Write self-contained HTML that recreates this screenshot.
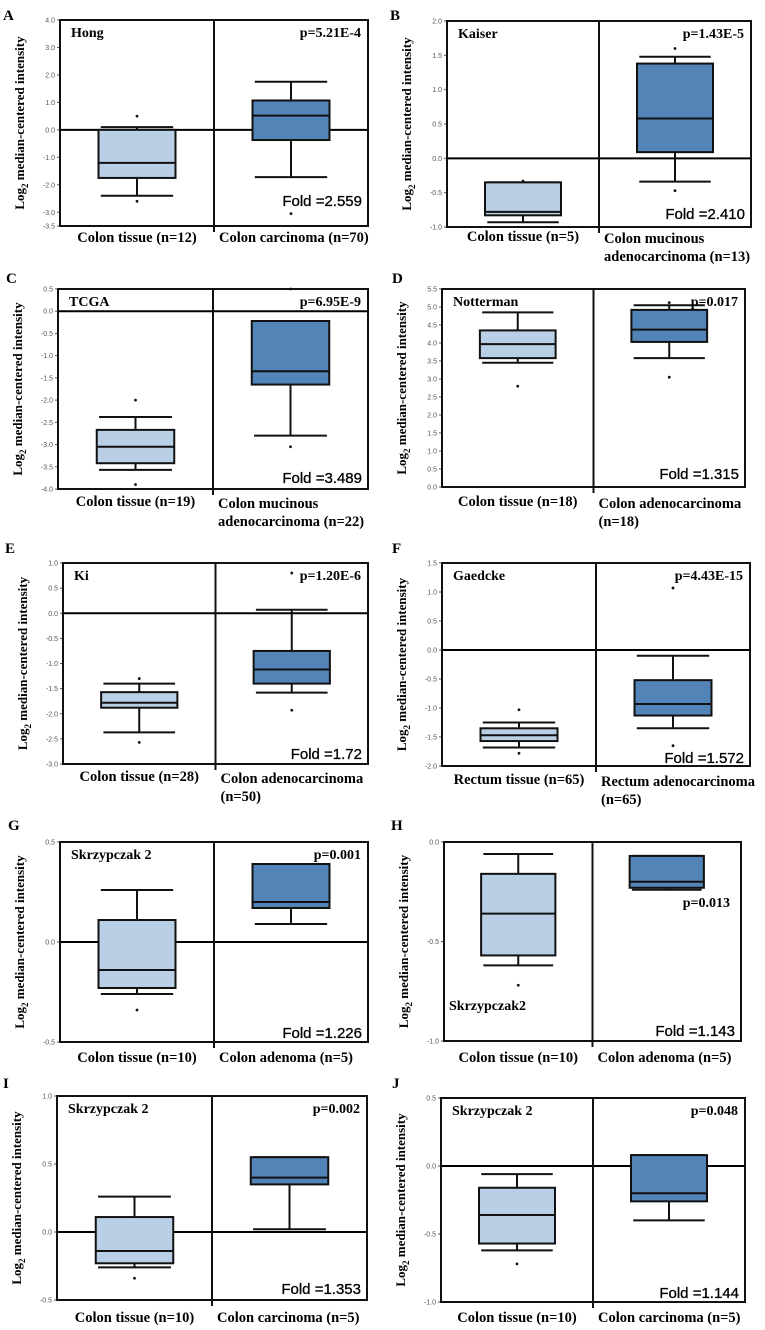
<!DOCTYPE html>
<html><head><meta charset="utf-8">
<style>
html,body{margin:0;padding:0;background:#fff;}
svg{display:block;}
.tick{font-family:"Liberation Sans",sans-serif;font-size:7px;fill:#555;}
.ser{font-family:"Liberation Serif",serif;font-weight:bold;fill:#000;}
.fold{font-family:"Liberation Sans",sans-serif;font-size:15px;fill:#000;stroke:#000;stroke-width:0.3px;}
</style></head>
<body>
<svg id="fig" width="765" height="1330" viewBox="0 0 765 1330" xmlns="http://www.w3.org/2000/svg"></svg>
<script>
// ---- data (panels A..J; T = normal tissue, C = cancer) ----
const panelIds = ["A","B","C","D","E","F","G","H","I","J"];
const tickLabels = [
  ["4.0","3.0","2.0","1.0","0.0","-1.0","-2.0","-3.0","-3.5"],
  ["2.0","1.5","1.0","0.5","0.0","-0.5","-1.0"],
  ["0.5","0.0","-0.5","-1.0","-1.5","-2.0","-2.5","-3.0","-3.5","-4.0"],
  ["5.5","5.0","4.5","4.0","3.5","3.0","2.5","2.0","1.5","1.0","0.5","0.0"],
  ["1.0","0.5","0.0","-0.5","-1.0","-1.5","-2.0","-2.5","-3.0"],
  ["1.5","1.0","0.5","0.0","-0.5","-1.0","-1.5","-2.0"],
  ["0.5","0.0","-0.5"],
  ["0.0","-0.5","-1.0"],
  ["1.0","0.5","0.0","-0.5"],
  ["0.5","0.0","-0.5","-1.0"]
];
const hiT  = [0.1,-0.35,-2.38,4.85,-1.4,-1.25,0.26,-0.06,0.26,-0.06];
const q3T  = [0.0,-0.35,-2.67,4.35,-1.57,-1.35,0.11,-0.16,0.11,-0.16];
const medT = [-1.2,-0.78,-3.05,3.97,-1.78,-1.47,-0.14,-0.36,-0.14,-0.36];
const q1T  = [-1.75,-0.83,-3.42,3.58,-1.88,-1.57,-0.23,-0.57,-0.23,-0.57];
const loT  = [-2.4,-0.93,-3.57,3.45,-2.37,-1.68,-0.26,-0.62,-0.26,-0.62];
const hiC  = [1.75,1.48,-0.22,5.05,0.07,-0.1,0.39,-0.07,0.55,0.08];
const q3C  = [1.07,1.38,-0.22,4.92,-0.75,-0.52,0.39,-0.07,0.55,0.08];
const medC = [0.52,0.58,-1.35,4.37,-1.12,-0.93,0.2,-0.2,0.4,-0.2];
const q1C  = [-0.37,0.09,-1.65,4.03,-1.4,-1.13,0.17,-0.23,0.35,-0.26];
const loC  = [-1.72,-0.34,-2.8,3.58,-1.58,-1.35,0.09,-0.24,0.02,-0.4];
const outT = [[0.5,-2.6],[-0.33],[-2.0,-3.9],[2.8],[-1.3,-2.57],[-1.03,-1.78],[-0.34],[-0.72],[-0.34],[-0.72]];
const outC = [[-3.05],[1.6,-0.47],[-3.05,0.5],[3.05,5.12],[-1.93,0.8],[1.07,-1.65],[],[],[],[]];
const datasetNames = ["Hong","Kaiser","TCGA","Notterman","Ki","Gaedcke","Skrzypczak 2","Skrzypczak2","Skrzypczak 2","Skrzypczak 2"];
const pValues = ["p=5.21E-4","p=1.43E-5","p=6.95E-9","p=0.017","p=1.20E-6","p=4.43E-15","p=0.001","p=0.013","p=0.002","p=0.048"];
const foldValues = ["Fold =2.559","Fold =2.410","Fold =3.489","Fold =1.315","Fold =1.72","Fold =1.572","Fold =1.226","Fold =1.143","Fold =1.353","Fold =1.144"];
const cat1 = ["Colon tissue (n=12)","Colon tissue (n=5)","Colon tissue (n=19)","Colon tissue (n=18)","Colon tissue (n=28)","Rectum tissue (n=65)","Colon tissue (n=10)","Colon tissue (n=10)","Colon tissue (n=10)","Colon tissue (n=10)"];
const cat2 = [["Colon carcinoma (n=70)"],["Colon  mucinous","adenocarcinoma  (n=13)"],["Colon  mucinous","adenocarcinoma  (n=22)"],["Colon  adenocarcinoma","(n=18)"],["Colon  adenocarcinoma","(n=50)"],["Rectum adenocarcinoma","(n=65)"],["Colon  adenoma  (n=5)"],["Colon  adenoma  (n=5)"],["Colon  carcinoma  (n=5)"],["Colon  carcinoma  (n=5)"]];

// ---- layout (not data) ----
const layout = [
  {lx:3,ly:20,x0:60,x1:368,y0:20,y1:226,catY:242,foldDy:-20},
  {lx:390,ly:20,x0:447,x1:751,y0:21,y1:227,catY:241,foldDy:-8},
  {lx:6,ly:283,x0:58,x1:368,y0:289,y1:489,catY:506,foldDy:-6},
  {lx:392,ly:283,x0:442,x1:745,y0:289,y1:487,catY:506,foldDy:-8},
  {lx:5,ly:553,x0:63,x1:368,y0:563,y1:764,catY:781,foldDy:-5},
  {lx:392,ly:553,x0:442,x1:750,y0:563,y1:766,catY:784,foldDy:-3},
  {lx:8,ly:830,x0:60,x1:368,y0:842,y1:1042,catY:1062,foldDy:-4},
  {lx:391,ly:830,x0:444,x1:741,y0:842,y1:1041,catY:1062,foldDy:-5},
  {lx:3,ly:1088,x0:57,x1:367,y0:1096,y1:1300,catY:1322,foldDy:-6},
  {lx:392,ly:1088,x0:441,x1:745,y0:1098,y1:1302,catY:1322,foldDy:-4}
];

const NS = "http://www.w3.org/2000/svg";
const svg = document.getElementById("fig");
function mk(tag, attrs, parent){
  const e = document.createElementNS(NS, tag);
  for (const k in attrs) e.setAttribute(k, attrs[k]);
  (parent||svg).appendChild(e);
  return e;
}

panelIds.forEach((id, i) => {
  const L = layout[i];
  const pid = id.toLowerCase();
  const g = mk("g", {});
  
  
  const ticks = tickLabels[i].map(Number);
  const vmax = ticks[0], vmin = ticks[ticks.length-1];
  const yS = v => L.y0 + (vmax - v) / (vmax - vmin) * (L.y1 - L.y0);
  const w = L.x1 - L.x0;
  const xm = (L.x0 + L.x1) / 2;

  const letter = mk("text", {x:L.lx, y:L.ly, class:"ser", "font-size":15}, g);
  letter.textContent = id;
  
  

  // y-axis title
  const yc = (L.y0 + L.y1) / 2, tx = L.x0 - 36;
  const yt = mk("text", {x:tx, y:yc, class:"ser", "font-size":13, "text-anchor":"middle", transform:`rotate(-90 ${tx} ${yc})`}, g);
  
  
  const t1 = mk("tspan", {}, yt); t1.textContent = "Log";
  const t2 = mk("tspan", {dy:4, "font-size":9}, yt); t2.textContent = "2";
  const t3 = mk("tspan", {dy:-4}, yt); t3.textContent = " median-centered intensity";

  // ticks
  tickLabels[i].forEach((lab, k) => {
    const y = yS(ticks[k]);
    const tl = mk("text", {x:L.x0 - 5, y:y + 2.5, class:"tick", "text-anchor":"end"}, g);
    tl.textContent = lab;
    
    
    const tm = mk("line", {x1:L.x0 - 3, x2:L.x0, y1:y, y2:y, stroke:"#555", "stroke-width":1}, g);
    
    
  });

  // zero line
  if (vmin < 0 && vmax > 0) {
    const zl = mk("line", {x1:L.x0, x2:L.x1, y1:yS(0), y2:yS(0), stroke:"#000", "stroke-width":2}, g);
    
    
  }

  // boxes
  const groups = [
    {hi:hiT[i], q3:q3T[i], med:medT[i], q1:q1T[i], lo:loT[i], out:outT[i], cx:L.x0 + w*0.25, fill:"#b9cfe5", nm:"tissue"},
    {hi:hiC[i], q3:q3C[i], med:medC[i], q1:q1C[i], lo:loC[i], out:outC[i], cx:L.x0 + w*0.75, fill:"#5284b8", nm:"cancer"}
  ];
  groups.forEach(G => {
    const bw = w*0.25, cw = w*0.235;
    const wl = mk("line", {x1:G.cx, x2:G.cx, y1:yS(G.hi), y2:yS(G.lo), stroke:"#111", "stroke-width":2}, g);
    
    
    [G.hi, G.lo].forEach(v => {
      const cap = mk("line", {x1:G.cx - cw/2, x2:G.cx + cw/2, y1:yS(v), y2:yS(v), stroke:"#111", "stroke-width":2}, g);
      
      
    });
    const bx = mk("rect", {x:G.cx - bw/2, y:yS(G.q3), width:bw, height:Math.max(1, yS(G.q1) - yS(G.q3)), fill:G.fill, stroke:"#111", "stroke-width":2}, g);
    
    
    const md = mk("line", {x1:G.cx - bw/2, x2:G.cx + bw/2, y1:yS(G.med), y2:yS(G.med), stroke:"#111", "stroke-width":2}, g);
    
    
    G.out.forEach(v => {
      const o = mk("circle", {cx:G.cx, cy:yS(v), r:1.4, fill:"#111"}, g);
      
      
    });
  });

  // frame + divider
  const fr = mk("rect", {x:L.x0, y:L.y0, width:w, height:L.y1 - L.y0, fill:"none", stroke:"#111", "stroke-width":2}, g);
  
  
  const dv = mk("line", {x1:xm, x2:xm, y1:L.y0, y2:L.y1 + 6, stroke:"#111", "stroke-width":2}, g);
  
  

  // annotations
  let nx = L.x0 + 11, ny = L.y0 + 17, px = L.x1 - 7, py = L.y0 + 17;
  if (id === "H") { nx = L.x0 + 5; ny = L.y0 + 168; px = L.x1 - 11; py = L.y0 + 65; }
  const nm = mk("text", {x:nx, y:ny, class:"ser", "font-size":14}, g);
  nm.textContent = datasetNames[i];
  
  
  const pv = mk("text", {x:px, y:py, class:"ser", "font-size":14, "text-anchor":"end"}, g);
  pv.textContent = pValues[i];
  
  
  const fd = mk("text", {x:L.x1 - 6, y:L.y1 + L.foldDy, class:"fold", "text-anchor":"end"}, g);
  fd.textContent = foldValues[i];
  
  

  // category labels
  const c1 = mk("text", {x:L.x0 + w*0.25, y:L.catY, class:"ser", "font-size":14.5, "text-anchor":"middle"}, g);
  c1.textContent = cat1[i];
  
  
  const lines = cat2[i];
  lines.forEach((s, k) => {
    const single = lines.length === 1;
    const c2 = mk("text", single
      ? {x:xm + 5, y:L.catY, class:"ser", "font-size":14.5, "xml:space":"preserve"}
      : {x:xm + 5, y:L.catY + k*18 + 2, class:"ser", "font-size":14.5, "xml:space":"preserve"}, g);
    c2.textContent = s;
    
    
  });
});
</script>
</body></html>
